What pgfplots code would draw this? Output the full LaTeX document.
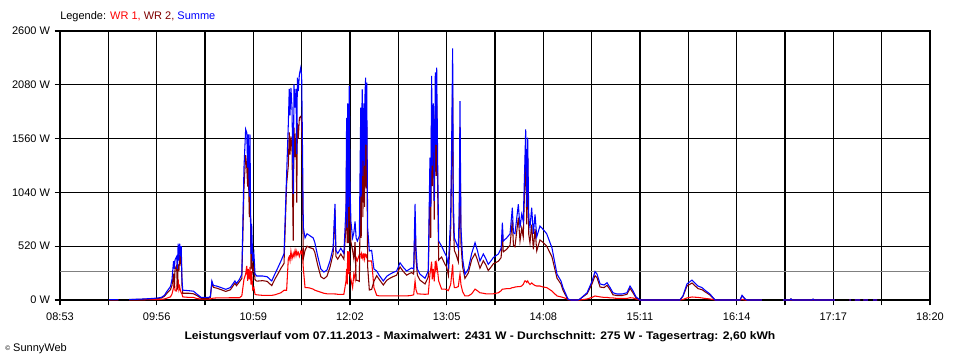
\documentclass[border=0pt]{standalone}
\usepackage{pgfplots}
\pgfplotsset{compat=1.18}
\usepackage{pgfplotstable}
\usepackage{fontspec}
\setmainfont{Liberation Sans}
\definecolor{wrone}{RGB}{255,0,0}
\definecolor{wrtwo}{RGB}{128,0,0}
\definecolor{summe}{RGB}{0,0,255}
\definecolor{avg}{RGB}{128,128,128}
\newcommand{\chartfont}{\fontsize{8.25pt}{10pt}\selectfont}

\pgfplotstableread{
t wr1 wr2 sum
565 1 3 4
571 1 3 4
574 nan nan nan
578 1 4 5
585 2 6 8
590 3 9 12
596 4 14 18
599 6 19 25
601 10 35 45
603 20 70 90
605 30 100 130
606 58 142 200
607 120 255 375
607.5 184 116 300
608 90 300 390
609 87 333 420
609.5 200 100 300
610 200 345 545
610.5 100 280 380
611 130 415 545
611.5 90 370 460
612 70 450 520
612.5 58 142 200
613 30 65 95
617 25 65 90
620 25 60 85
622 15 45 60
625 8 17 25
630 8 17 25
631 10 25 35
632 15 169 184
633 18 122 140
635 20 115 135
638 20 100 120
641 20 83 103
644 22 98 120
647 22 162 184
648 22 138 160
650 22 178 200
651.5 40 208 248
652.9 200 1080 1280
654.0 250 1400 1650
654.7 330 1288 1618
655.3 184 1096 1280
655.7 300 1300 1600
656.4 200 800 1000
656.8 320 1280 1600
657.5 150 295 445
657.9 280 455 735
658.6 100 275 375
659.4 120 325 445
660.1 55 195 250
661.2 50 182 232
665 45 187 232
668 45 180 225
671 45 139 184
673 50 200 250
675 60 252 312
677 70 307 377
679 94 353 447
680.7 94 1121 1215
681.8 400 1300 1700
682.4 420 1620 2040
682.9 380 1405 1785
683.5 470 1580 2050
684.2 400 1460 1860
685.0 450 575 1025
685.5 420 1665 2085
686.2 480 1380 1860
686.8 430 1610 2040
687.3 470 940 1410
687.7 440 1710 2150
688.3 460 1560 2020
689.0 420 1760 2180
689.9 470 1775 2245
690.5 450 1720 2170
690.9 474 1191 1665
691.6 300 400 700
692.7 120 480 600
694 120 520 640
696 115 505 620
698 105 495 600
699 95 465 560
701 85 335 420
703 75 225 300
705 65 205 270
707 60 230 290
709 60 320 380
711 60 445 505
712.2 58 870 928
712.8 58 422 480
714 55 395 450
716 55 445 500
718 55 395 450
719.4 184 716 900
719.8 300 1460 1760
720.2 150 550 700
720.5 473 1427 1900
720.9 250 1512 1762
721.2 350 550 900
721.5 470 1600 2070
722.0 250 850 1100
722.6 200 560 760
723.7 120 480 600
724.5 250 400 650
725.3 200 560 760
726.0 410 190 600
726.8 380 190 570
728.1 440 180 620
729.0 445 1415 1860
729.3 400 600 1000
729.6 445 1255 1700
730.0 420 1615 2035
730.4 400 800 1200
730.7 445 1305 1750
731.1 440 1460 1900
731.5 400 900 1300
731.8 445 1555 2000
732.2 440 1710 2150
732.6 420 1080 1500
732.9 430 1670 2100
733.5 377 323 700
734.6 377 96 473
736.1 377 103 480
737.6 120 180 300
739.4 45 235 280
741 40 200 240
743.7 39 145 184
746 39 191 230
748.1 39 211 250
750 40 225 265
752.4 40 240 280
754.6 40 320 360
756.5 40 280 320
758.9 40 240 280
761 42 258 300
762.2 45 265 310
763.5 50 250 300
764.4 184 744 928
765.0 100 400 500
765.9 60 240 300
767.6 58 192 250
770.9 55 155 210
773 58 222 280
774.1 250 1125 1375
774.6 300 600 900
775.2 370 1795 2165
775.6 200 1100 1300
775.9 250 1415 1665
776.3 300 1600 1900
776.9 180 777 957
777.6 377 1823 2200
778.1 300 1200 1500
778.5 350 1895 2245
779.1 280 1095 1375
779.8 184 386 570
781.7 105 415 520
783.9 105 345 450
785 100 320 420
786.1 90 240 330
787.6 150 650 800
788.3 250 1335 1585
788.9 345 2086 2431
789.3 200 800 1000
790 120 480 600
791.1 120 440 560
792.6 130 370 500
793.2 200 700 900
793.7 250 1673 1923
794.3 150 550 700
795.4 80 320 400
796.9 39 209 248
799.1 39 261 300
801.3 60 390 450
803.5 105 449 554
805 90 390 480
806.7 70 307 377
808.9 65 380 445
810.5 60 340 400
812.1 60 285 345
814 60 320 380
815.4 60 350 410
818.7 70 375 445
820.5 90 410 500
821.3 105 642 747
821.9 105 465 570
824.1 110 490 600
826.3 110 530 640
827.8 120 772 892
828.5 120 530 650
829.5 125 515 640
831.7 130 795 925
832.8 130 570 700
833.9 135 693 828
834.9 150 610 760
835.9 184 1116 1300
836.5 184 1466 1650
837.2 170 730 900
837.8 184 1386 1570
838.5 165 635 800
839.3 150 550 700
840.4 165 727 892
841.5 150 490 640
842.6 140 688 828
843.7 135 475 610
845.8 135 580 715
848 125 555 680
850.2 120 520 640
853.6 87 418 505
856.9 39 211 250
859.5 30 154 184
860.8 25 95 120
864.1 8 0 8
866 0 0 0
870.6 0 0 0
871.9 0 10 10
876.5 10 60 70
879.7 25 155 180
881.7 39 236 275
883 35 215 250
885 30 125 155
887.6 25 120 145
889.5 25 142 167
891.5 20 100 120
893.4 20 50 70
896 15 43 58
899.3 15 43 58
902.5 15 55 70
904.5 22 113 135
906.4 20 70 90
908.4 10 20 30
911 0 0 0
937 0 0 0
939 5 35 40
941.6 20 135 155
944.9 29 164 193
948.8 25 110 135
951.4 20 100 120
953.4 15 79 94
956.6 10 48 58
959.9 0 0 0
976.2 0 0 0
977.5 5 40 45
979.4 0 10 10
980.7 0 0 0
990.5 0 0 0
995 nan nan nan
1004.2 0 0 0
1008.8 0 0 0
1009.4 0 10 10
1010 0 0 0
1023.3 0 0 0
1023.8 0 8 8
1024.3 0 0 0
1038 0 0 0
1040 nan nan nan
1047.5 0 0 0
1048.5 0 0 0
1049.5 nan nan nan
1051 0 0 0
1054.5 0 0 0
1055.5 nan nan nan
1056.5 0 0 0
1059.5 0 0 0
1061 nan nan nan
1063 0 0 0
1065.5 0 0 0
}\powerdata

\begin{document}
\begin{tikzpicture}[font=\chartfont]
\useasboundingbox (0,0) rectangle (720pt,270pt);
\fill[white] (0,0) rectangle (720pt,270pt);
\begin{axis}[
  at={(45pt,45pt)}, anchor=south west,
  scale only axis, width=652.5pt, height=201.75pt,
  xmin=533, xmax=1100, ymin=0, ymax=2600,
  clip=false,
  axis line style={black, line width=1pt},
  xtick={533,564.5,596,627.5,659,690.5,722,753.5,785,816.5,848,879.5,911,942.5,974,1005.5,1037,1068.5,1100},
  xticklabels={08:53,,09:56,,10:59,,12:02,,13:05,,14:08,,15:11,,16:14,,17:17,,18:20},
  ytick={0,520,1040,1560,2080,2600},
  yticklabels={0 W,520 W,1040 W,1560 W,2080 W,2600 W},
  xtick pos=bottom, ytick pos=left,
  tick align=outside,
  major tick length=4pt,
  tick style={black, line width=1pt},
  xmajorgrids, ymajorgrids,
  grid style={black, line width=1pt},
  tick label style={font=\chartfont, text=black},
  xticklabel style={yshift=-2pt},
  unbounded coords=jump,
]
\addplot[avg, line width=0.75pt, forget plot] coordinates {(533,275) (1100,275)};
\addplot[wrone, line width=0.8pt] table[x=t, y=wr1] {\powerdata};
\addplot[wrtwo, line width=0.8pt] table[x=t, y=wr2] {\powerdata};
\addplot[summe, line width=0.8pt] table[x=t, y=sum] {\powerdata};
\end{axis}
\node[anchor=west, inner sep=0pt] at (45pt,257.5pt) {Legende: \textcolor{wrone}{WR 1,} \textcolor{wrtwo}{WR 2,} \textcolor{summe}{Summe}};
\node[inner sep=0pt] at (360pt,17.5pt) {\scalebox{1.1}[1.0]{\bfseries Leistungsverlauf vom 07.11.2013 - Maximalwert: 2431 W - Durchschnitt: 275 W - Tagesertrag: 2,60 kWh}};
\node[anchor=west, inner sep=0pt] at (3.75pt,8.25pt) {{\fontsize{5pt}{6pt}\selectfont\raisebox{0.5ex}{©}} SunnyWeb};
\end{tikzpicture}
\end{document}
